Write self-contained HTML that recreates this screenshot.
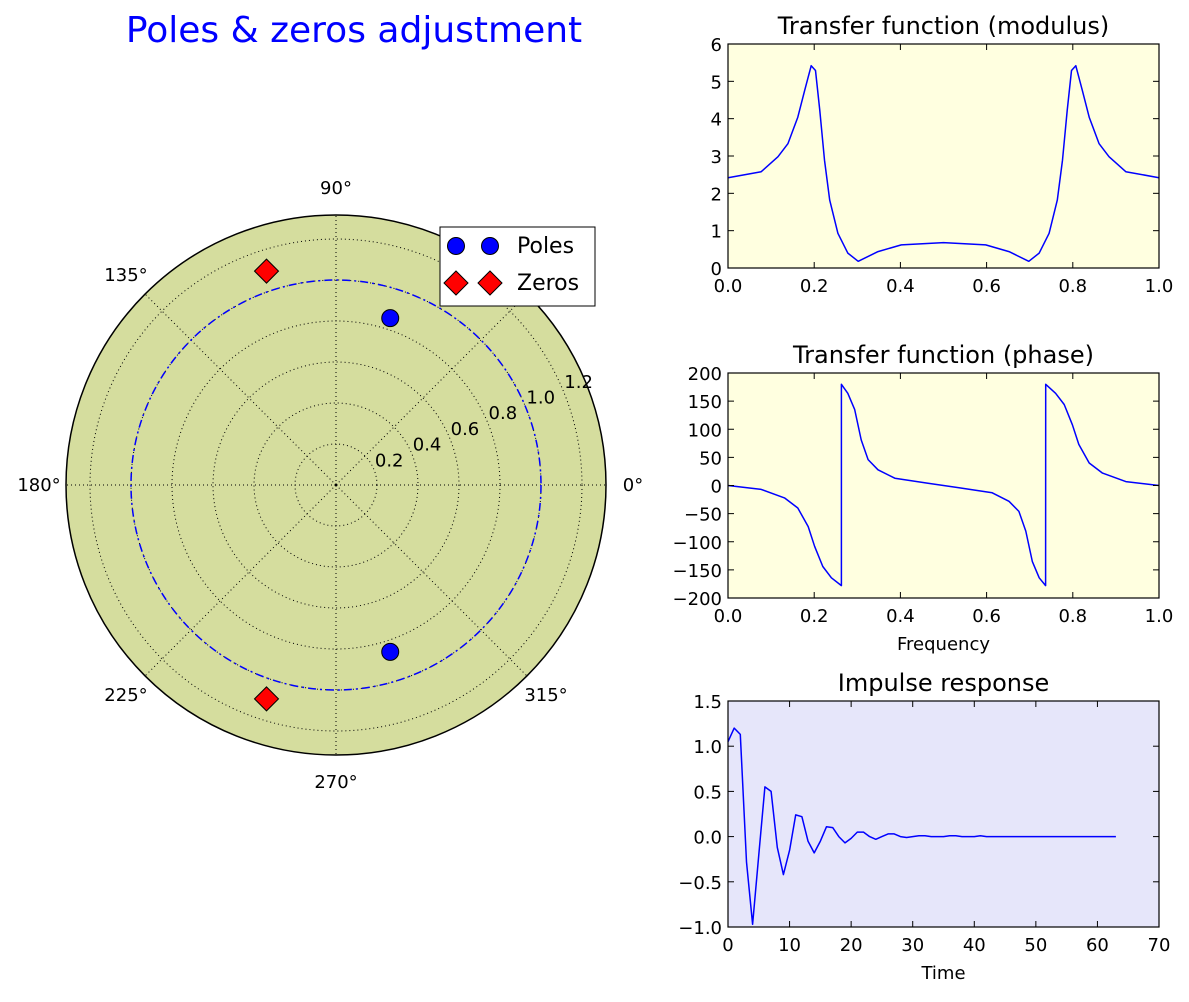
<!DOCTYPE html>
<html><head><meta charset="utf-8"><style>
body{margin:0;background:#fff;font-family:"Liberation Sans","DejaVu Sans",sans-serif}
svg text{font-family:"DejaVu Sans","Liberation Sans",sans-serif}
</style></head><body>
<svg id="s" width="1189" height="997" viewBox="0 0 1189 997" xmlns="http://www.w3.org/2000/svg">
<text x="354" y="42" font-size="36" fill="#0000ff" text-anchor="middle">Poles &amp; zeros adjustment</text>
</svg>
<script>
// ---- data ----
const poleR=[0.856,0.856], poleA=[72,-72];
const zeroR=[1.097,1.097], zeroA=[108,-108];
const rTicks=[0.2,0.4,0.6,0.8,1.0,1.2];
const angTicks=[0,45,90,135,180,225,270,315];
const modF=[0,0.077,0.116,0.139,0.162,0.178,0.193,0.203,0.213,0.224,0.236,0.255,0.278,0.302,0.348,0.402,0.5,0.598,0.652,0.698,0.722,0.745,0.764,0.776,0.787,0.797,0.807,0.822,0.838,0.861,0.884,0.923,1];
const modV=[2.42,2.58,2.98,3.33,4.04,4.76,5.42,5.29,4.22,2.89,1.82,0.93,0.4,0.18,0.44,0.62,0.68,0.62,0.44,0.18,0.4,0.93,1.82,2.89,4.22,5.29,5.42,4.76,4.04,3.33,2.98,2.58,2.42];
const phF=[0,0.077,0.131,0.162,0.186,0.201,0.22,0.24,0.263,0.2631,0.278,0.294,0.309,0.325,0.348,0.387,0.464,0.5,0.536,0.613,0.652,0.675,0.691,0.706,0.722,0.737,0.7371,0.76,0.78,0.799,0.814,0.838,0.869,0.923,1];
const phV=[0,-7,-22,-40,-73,-108,-144,-164,-178,180,164,135,81,46,28,13,4,0,-4,-13,-28,-46,-81,-135,-164,-178,180,164,144,108,73,40,22,7,0];
const impN=[];for(let i=0;i<64;i++)impN.push(i);
const impV=[1.05,1.2,1.13,-0.28,-0.97,-0.2,0.55,0.5,-0.12,-0.42,-0.15,0.24,0.22,-0.05,-0.18,-0.05,0.11,0.1,0,-0.07,-0.02,0.05,0.05,0,-0.03,0,0.03,0.03,0,-0.01,0,0.01,0.01,0,0,0,0.01,0.01,0,0,0,0.01,0,0,0,0,0,0,0,0,0,0,0,0,0,0,0,0,0,0,0,0,0,0];
// ---- helpers ----
const S=document.getElementById('s'),NS='http://www.w3.org/2000/svg';
function el(t,a,txt){const e=document.createElementNS(NS,t);for(const k in a)e.setAttribute(k,a[k]);if(txt!==undefined)e.textContent=txt;S.appendChild(e);return e;}
// ---- polar ----
const cx=336,cy=485,K=205,R=270;
let e=el('circle',{cx:cx,cy:cy,r:R,fill:'#d5dd9e',stroke:'#000','stroke-width':1.5});

rTicks.forEach(r=>{let c=el('circle',{cx:cx,cy:cy,r:r*K,fill:'none',stroke:'#000','stroke-width':1,'stroke-dasharray':'1,3'});
});
angTicks.forEach(a=>{const t=a*Math.PI/180;
let l=el('line',{x1:cx,y1:cy,x2:cx+R*Math.cos(t),y2:cy-R*Math.sin(t),stroke:'#000','stroke-width':1,'stroke-dasharray':'1,3'});

let tx=el('text',{x:cx+297*Math.cos(t),y:cy-297*Math.sin(t)+6,'font-size':18,'text-anchor':'middle'},a+'°');
});
rTicks.forEach(r=>{const t=22.5*Math.PI/180;
let tx=el('text',{x:cx+r*K*Math.cos(t)+1,y:cy-r*K*Math.sin(t)-3,'font-size':18},r.toFixed(1));
});
e=el('circle',{cx:cx,cy:cy,r:K,fill:'none',stroke:'#0000ff','stroke-width':1.5,'stroke-dasharray':'8,4,2,4'});

e=el('circle',{cx:cx,cy:cy,r:1.5,fill:'#000'});
poleR.forEach((r,i)=>{const t=poleA[i]*Math.PI/180;
let c=el('circle',{cx:cx+r*K*Math.cos(t),cy:cy-r*K*Math.sin(t),r:8.5,fill:'#0000ff',stroke:'#000'});
});
zeroR.forEach((r,i)=>{const t=zeroA[i]*Math.PI/180,x=cx+r*K*Math.cos(t),y=cy-r*K*Math.sin(t);
let p=el('polygon',{points:`${x},${y-12} ${x+12},${y} ${x},${y+12} ${x-12},${y}`,fill:'#ff0000',stroke:'#000'});
});
// legend
e=el('rect',{x:440,y:227,width:155,height:79,fill:'#fff',stroke:'#000'});

[456,490].forEach(x=>{let c=el('circle',{cx:x,cy:246,r:8.5,fill:'#0000ff',stroke:'#000'});
let p=el('polygon',{points:`${x},${271} ${x+12},${283} ${x},${295} ${x-12},${283}`,fill:'#ff0000',stroke:'#000'});});
e=el('text',{x:517,y:253,'font-size':22},'Poles');
e=el('text',{x:517,y:290,'font-size':22},'Zeros');
// ---- cartesian panels ----
function panel(o){
 const {x0,x1,y0,y1,xmin,xmax,ymin,ymax,bg,xt,yt,xl,yl,title,xs,ys,name,xlab}=o;
 const X=v=>x0+(v-xmin)/(xmax-xmin)*(x1-x0), Y=v=>y1-(v-ymin)/(ymax-ymin)*(y1-y0);
 let r=el('rect',{x:x0,y:y0,width:x1-x0,height:y1-y0,fill:bg});
 let d=xs.map((v,i)=>(i?'L':'M')+X(v).toFixed(1)+','+Y(ys[i]).toFixed(1)).join('');
 let p=el('path',{d:d,fill:'none',stroke:'#0000ff','stroke-width':1.5,'stroke-linejoin':'round'});
 r=el('rect',{x:x0,y:y0,width:x1-x0,height:y1-y0,fill:'none',stroke:'#000','stroke-width':1.2});
 xt.forEach((v,i)=>{const x=X(v);el('line',{x1:x,x2:x,y1:y0,y2:y0+6,stroke:'#000'});el('line',{x1:x,x2:x,y1:y1,y2:y1-6,stroke:'#000'});
  let t=el('text',{x:x,y:y1+24,'font-size':18,'text-anchor':'middle'},xl[i]);});
 yt.forEach((v,i)=>{const y=Y(v);el('line',{x1:x0,x2:x0+6,y1:y,y2:y,stroke:'#000'});el('line',{x1:x1,x2:x1-6,y1:y,y2:y,stroke:'#000'});
  let t=el('text',{x:x0-6,y:y+7,'font-size':18,'text-anchor':'end'},yl[i]);});
 let t=el('text',{x:(x0+x1)/2,y:y0-10,'font-size':24,'text-anchor':'middle'},title);
 if(xlab){t=el('text',{x:(x0+x1)/2,y:y1+52,'font-size':18,'text-anchor':'middle'},xlab);}
}
const fT=[0,0.2,0.4,0.6,0.8,1.0],fL=['0.0','0.2','0.4','0.6','0.8','1.0'];
panel({name:'modulus',x0:728,x1:1159,y0:44,y1:268,xmin:0,xmax:1,ymin:0,ymax:6,bg:'#ffffe0',xt:fT,xl:fL,yt:[0,1,2,3,4,5,6],yl:['0','1','2','3','4','5','6'],title:'Transfer function (modulus)',xs:modF,ys:modV});
panel({name:'phase',x0:728,x1:1159,y0:373,y1:598,xmin:0,xmax:1,ymin:-200,ymax:200,bg:'#ffffe0',xt:fT,xl:fL,yt:[-200,-150,-100,-50,0,50,100,150,200],yl:['−200','−150','−100','−50','0','50','100','150','200'],title:'Transfer function (phase)',xs:phF,ys:phV,xlab:'Frequency'});
panel({name:'impulse',x0:728,x1:1159,y0:701,y1:927,xmin:0,xmax:70,ymin:-1,ymax:1.5,bg:'#e6e6fa',xt:[0,10,20,30,40,50,60,70],xl:['0','10','20','30','40','50','60','70'],yt:[-1,-0.5,0,0.5,1,1.5],yl:['−1.0','−0.5','0.0','0.5','1.0','1.5'],title:'Impulse response',xs:impN,ys:impV,xlab:'Time'});
</script>
</body></html>
